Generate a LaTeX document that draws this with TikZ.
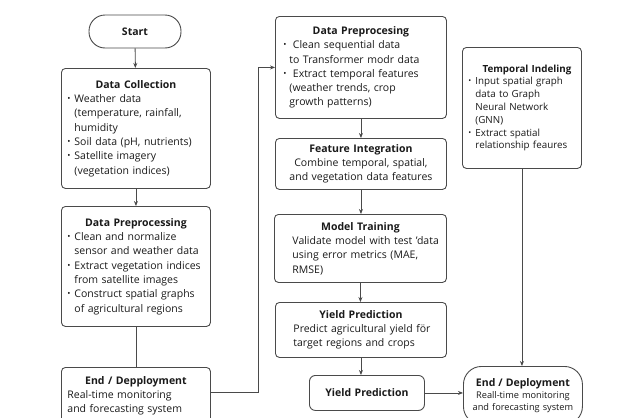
\documentclass[tikz,border=0pt]{standalone}
\usepackage{fontspec}
\setmainfont{Open Sans}
\usetikzlibrary{arrows.meta,calc}
\definecolor{linec}{HTML}{4A4A4A}
\definecolor{txt}{HTML}{1A1A1A}
\newcommand{\bul}[1][7pt]{\par\noindent\hangindent=#1\hangafter=1\makebox[#1][l]{\raisebox{0.2ex}{\scalebox{0.8}{\textbullet}}}}
\newcommand{\ttl}[1]{\centerline{\bfseries #1}}
\begin{document}
\begin{tikzpicture}[x=1pt,y=-1pt,
  box/.style={draw=linec, line width=0.9pt, rounded corners=4pt, anchor=north west,
    inner xsep=7pt, inner ysep=3pt, text=txt,
    font=\fontsize{10.5}{14.3}\selectfont, align=left},
  conn/.style={draw=linec, line width=0.9pt},
  arr/.style={conn, -{Stealth[length=5pt,width=4pt]}}]
\clip (0,0) rectangle (619,418);
\fill[white] (0,0) rectangle (619,418);

\node[draw=linec, line width=0.9pt, rounded corners=16pt, minimum width=92pt, minimum height=33pt,
  font=\fontsize{10.5}{12}\selectfont\bfseries, text=txt] (start) at (135,31.5) {Start};

\node[box, text width=137pt, minimum height=120pt, inner xsep=6pt] (dc) at (61,68) {%
\ttl{Data Collection}%
\bul Weather data\newline(temperature, rainfall,\newline humidity
\bul Soil data (pH, nutrients)
\bul Satellite imagery\newline(vegetation indices)\par};

\node[box, text width=137pt, minimum height=120pt, inner xsep=6pt] (ldp) at (61,206) {%
\ttl{Data Preprocessing}%
\bul Clean and normalize\newline sensor and weather data
\bul Extract vegetation indices\newline from satellite images
\bul Construct spatial graphs\newline of agricultural regions\par};

\node[box, text width=137pt, minimum height=57pt, inner xsep=6pt] (lend) at (61,367) {%
\ttl{End / Depployment}%
\par\noindent Real-time monitoring\newline and forecasting system\par};

\node[box, text width=155pt, minimum height=102pt, inner xsep=8pt] (mdp) at (275,16) {%
\ttl{Data Preprocesing}%
\bul[6pt] Clean sequential data\newline to Transformer modr data
\bul[6pt] Extract temporal features\newline(weather trends, crop\newline growth patterns)\par};

\node[box, text width=157pt, minimum height=51pt, align=center] (fi) at (275,138) {%
{\bfseries Feature Integration}\\Combine temporal, spatial,\\and vegetation data features};

\node[box, text width=162pt, minimum height=68pt, inner xsep=5pt] (mt) at (274,214) {%
\ttl{Model Training}%
{\par\leftskip=13pt\noindent Validate model with test 'data\newline using error metrics (MAE,\newline RMSE)\par}};

\node[box, text width=157pt, minimum height=55pt] (yp) at (275,302) {%
\ttl{Yield Prediction}%
{\par\leftskip=11pt\noindent Predict agricultural yield för\newline target regions and crops\par}};

\node[box, text width=101pt, minimum height=35pt, align=center, rounded corners=6pt,
  font=\fontsize{10.5}{12}\selectfont\bfseries] (yps) at (309,375) {Yield Prediction};

\node[box, text width=111pt, minimum height=58pt, inner xsep=4pt, align=center, rounded corners=18pt,
  font=\fontsize{9.2}{12}\selectfont] (rend) at (463,366) {%
{\fontsize{10.5}{13}\selectfont\bfseries End / Deployment}\\Reall-time monitoring\\and forecasting system};

\node[box, text width=107pt, minimum height=121pt, inner xsep=6pt, font=\fontsize{9.8}{12.8}\selectfont] (tm) at (462,47) {%
\centerline{\hspace*{10pt}\bfseries Temporal Indeling}%
\bul Input spatial graph\newline data to Graph\newline Neural Network\newline(GNN)
\bul Extract spatial\newline relationship feaures\par};

\draw[arr] (start) -- (dc);
\draw[arr] (dc) -- (ldp);
\draw[conn] (ldp) -- (lend);
\draw[arr] ([yshift=-25pt]lend.north east) -- ++(48,0) |- (mdp.west);
\draw[arr] (mdp) -- (fi);
\draw[arr] (fi) -- (fi.south |- mt.north);
\draw[arr] (mt) -- (mt.south |- yp.north);
\draw[arr] (yp.south) -- (yp.south |- yps.north);
\draw[arr] (yps.east) -- (yps.east -| rend.west);
\draw[arr] (tm.south) -- (tm.south |- rend.north);
\end{tikzpicture}
\end{document}
